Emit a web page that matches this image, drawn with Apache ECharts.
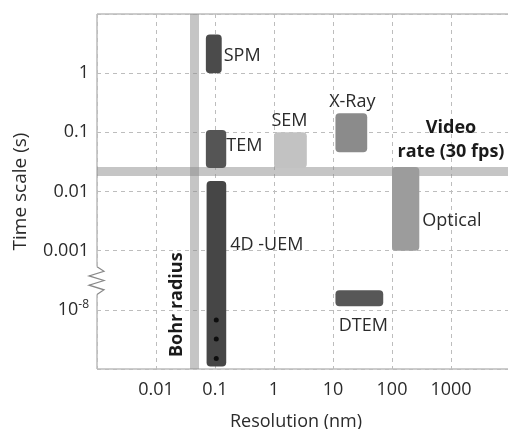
<!DOCTYPE html>
<html><head><meta charset="utf-8">
<script src="https://cdn.jsdelivr.net/npm/echarts@6/dist/echarts.min.js"></script>
<style>html,body{margin:0;padding:0;background:#fff}#c{width:508px;height:429px}</style>
</head><body><div id="c"></div>
<script>
// ---- data ----
const instruments   = ['SPM', 'TEM', '4D -UEM', 'SEM', 'X-Ray', 'Optical', 'DTEM'];
const resolutionMin = [0.07, 0.07, 0.072, 1.0, 11, 100, 11];      // nm
const resolutionMax = [0.13, 0.155, 0.155, 3.6, 38, 290, 71];     // nm
const timeMin       = [1, 0.025, 1.1e-9, 0.025, 0.046, 0.001, 2e-8]; // s
const timeMax       = [4.5, 0.11, 0.015, 0.1, 0.21, 0.026, 4.5e-7];  // s
const dotTimes      = [6.7e-9, 3.2e-9, 1.5e-9];
const dotResolution = 0.105;
const bohrRadius    = 0.045;   // nm
const videoRateTime = 0.022;   // s
const xTickValues   = [0.01, 0.1, 1, 10, 100, 1000];
const xTickLabels   = ['0.01', '0.1', '1', '10', '100', '1000'];
const yTickValues   = [1e-8, 0.001, 0.01, 0.1, 1];
const yTickLabels   = ['10{sup|-8}', '0.001', '0.01', '0.1', '1'];

// ---- styles / layout ----
const barColors = {'SPM':'#4b4b4b','TEM':'#555555','4D -UEM':'#464646','SEM':'#c2c2c2','X-Ray':'#8b8b8b','Optical':'#9c9c9c','DTEM':'#575757'};
const labelLayout = {
  'SPM':     {pos:'right',  dx:2,   dy:2},
  'TEM':     {pos:'right',  dx:0,   dy:-3},
  '4D -UEM': {pos:'right',  dx:4,   dy:-29},
  'SEM':     {pos:'top',    dx:-1,  dy:-11},
  'X-Ray':   {pos:'top',    dx:1,   dy:-11},
  'Optical': {pos:'right',  dx:3,   dy:12},
  'DTEM':    {pos:'bottom', dx:4,   dy:20}
};
const FONT = '"Open Sans", sans-serif';
const TEXT = '#2b2b2b';
const breakTop = 1.73, breakBottom = 1.26;

// broken time scale -> axis position
function rpos(r){ return Math.log10(r); }
function tpos(t){
  const L = Math.log10(t);
  if (L >= -3) return 5 + L;
  if (L >= -8) return 1 + (L + 8) / 5;
  return 1 + (L + 8);
}
function near(a,b){ return Math.abs(a-b) < 1e-6; }

const barData = instruments.map((n,i)=>[rpos(resolutionMin[i]), rpos(resolutionMax[i]), tpos(timeMin[i]), tpos(timeMax[i]), i]);

const chart = echarts.init(document.getElementById('c'), null, {renderer:'canvas'});
chart.setOption({
  animation:false,
  textStyle:{fontFamily:FONT},
  grid:{left:97, right:-2, top:14, bottom:60, show:true, borderColor:'#999', borderWidth:1, outerBoundsMode:'none', containLabel:false},
  xAxis:{
    type:'value', min:-3, max:4, interval:1,
    name:'Resolution (nm)', nameLocation:'middle', nameGap:44,
    nameTextStyle:{fontSize:18, color:TEXT, fontFamily:FONT, padding:[0,15,0,0]},
    axisLine:{show:false}, axisTick:{show:false},
    axisLabel:{margin:12, fontSize:18, color:TEXT, fontFamily:FONT,
      formatter:v=>{ const i = xTickValues.findIndex(x=>near(rpos(x),v)); return i<0?'':xTickLabels[i]; }},
    splitLine:{show:true, lineStyle:{color:'#bdbdbd', type:[4,4], width:1}}
  },
  yAxis:{
    type:'value', min:0, max:6, interval:1,
    name:'Time scale (s)', nameLocation:'middle', nameGap:67, nameRotate:90,
    nameTextStyle:{fontSize:19, color:TEXT, fontFamily:FONT},
    axisLine:{show:false}, axisTick:{show:false},
    axisLabel:{margin:8, fontSize:18, color:TEXT, fontFamily:FONT,
      formatter:v=>{ const i = yTickValues.findIndex(t=>near(tpos(t),v)); return i<0?'':yTickLabels[i]; },
      rich:{sup:{fontSize:12, color:TEXT, fontFamily:FONT, padding:[0,0,10,0]}}},
    splitLine:{show:true, lineStyle:{color:'#bdbdbd', type:[4,4], width:1}}
  },
  series:[
    {
      type:'custom', name:'instruments', clip:false, z:3,
      data:barData,
      renderItem:(params, api)=>{
        const i = api.value(4);
        const p0 = api.coord([api.value(0), api.value(3)]);
        const p1 = api.coord([api.value(1), api.value(2)]);
        const x=p0[0], y=p0[1], w=p1[0]-p0[0], h=p1[1]-p0[1];
        const name = instruments[i], L = labelLayout[name];
        let tx, ty, align;
        if (L.pos==='right'){ tx=x+w+L.dx; ty=y+h/2+L.dy; align='left'; }
        else if (L.pos==='top'){ tx=x+w/2+L.dx; ty=y+L.dy; align='center'; }
        else { tx=x+w/2+L.dx; ty=y+h+L.dy; align='center'; }
        return {type:'group', children:[
          {type:'rect', shape:{x:x, y:y, width:w, height:h, r:4}, style:{fill:barColors[name]}},
          {type:'text', x:tx, y:ty, style:{text:name, fill:TEXT, font:'18px '+FONT, align:align, textAlign:align, verticalAlign:'middle', textVerticalAlign:'middle'}}
        ]};
      }
    },
    {
      type:'custom', name:'axisBreak', clip:false, z:4, silent:true,
      data:[[-3]],
      renderItem:(params, api)=>{
        const a = api.coord([api.value(0), breakTop]);
        const b = api.coord([api.value(0), breakBottom]);
        const x0=a[0], y0=a[1], y1=b[1], n=6;
        const pts=[[x0,y0]];
        for (let k=1;k<n;k++) pts.push([x0 + (k%2 ? 7 : -8), y0 + (y1-y0)*k/n]);
        pts.push([x0,y1]);
        return {type:'group', children:[
          {type:'rect', shape:{x:x0-3, y:y0, width:6, height:y1-y0}, style:{fill:'#fff'}},
          {type:'polyline', shape:{points:pts}, style:{stroke:'#888', lineWidth:1.2, fill:null}}
        ]};
      }
    },
    {
      type:'scatter', name:'dots', z:5, silent:true,
      symbolSize:5, itemStyle:{color:'#000'},
      data:dotTimes.map(t=>[rpos(dotResolution), tpos(t)]),
      markLine:{
        silent:true, symbol:['none','none'], z:2,
        data:[
          {xAxis:rpos(bohrRadius), lineStyle:{color:'rgba(140,140,140,0.5)', width:9, type:'solid'},
           label:{show:true, formatter:'Bohr radius', position:'insideStartTop', distance:[12,8],
                  fontSize:18, fontWeight:'bold', color:'#1a1a1a', fontFamily:FONT}},
          {yAxis:tpos(videoRateTime), lineStyle:{color:'rgba(140,140,140,0.5)', width:9, type:'solid'},
           label:{show:true, formatter:'{a|Video}\n{a|rate (30 fps)}', position:'insideEndTop', distance:[3,8],
                  rich:{a:{width:112, align:'center', fontSize:18, fontWeight:'bold', color:'#1a1a1a', lineHeight:24, fontFamily:FONT}}}}
        ]
      }
    }
  ]
});
</script></body></html>
